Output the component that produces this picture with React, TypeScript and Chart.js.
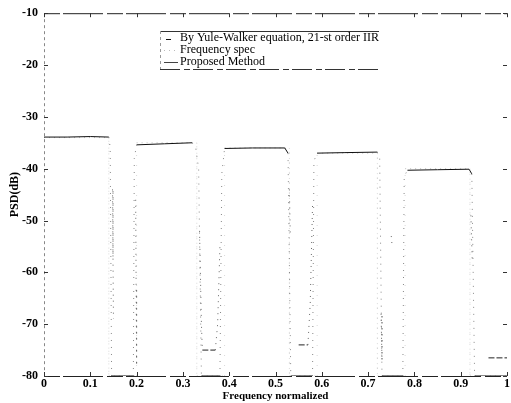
import React, { useEffect, useRef } from "react";
import { Chart, registerables } from "chart.js";

Chart.register(...registerables);

// ---- data ----
const xTicks = [0, 0.1, 0.2, 0.3, 0.4, 0.5, 0.6, 0.7, 0.8, 0.9, 1];
const yTicks = [-10, -20, -30, -40, -50, -60, -70, -80];

const proposedX = [0, 0.05, 0.1, 0.14, 0.143, 0.146, 0.193, 0.195, 0.2, 0.26, 0.32, 0.328, 0.334, 0.34, 0.38, 0.384, 0.39, 0.45, 0.52, 0.527, 0.533, 0.58, 0.583, 0.59, 0.65, 0.72, 0.725, 0.73, 0.775, 0.778, 0.785, 0.85, 0.918, 0.924, 0.93, 1];
const proposedY = [-33.9, -33.9, -33.8, -33.9, -36, -80, -80, -38, -35.4, -35.2, -35.0, -36.2, -40, -80, -80, -41, -36.1, -36.0, -36.0, -37, -80, -80, -38.5, -37.0, -36.9, -36.8, -38, -80, -80, -41.5, -40.3, -40.2, -40.1, -41, -80, -80];

const ywX = [0.148, 0.149, 0.15, null, 0.198, 0.199, 0.2, null, 0.336, 0.34, 0.342, 0.37, 0.375, 0.38, null, 0.53, 0.532, null, 0.55, 0.57, 0.575, 0.58, null, 0.728, 0.73, null, 0.75, 0.752, null, 0.922, 0.925, null, 0.96, 1];
const ywY = [-44, -57, -69, null, -46, -63, -78, null, -52, -70, -75, -75, -70, -55, null, -44, -53, null, -74, -74, -66, -47, null, -68, -77, null, -53, -55, null, -49, -58, null, -76.5, -76.5];

const specX = [0, 0.14, 0.14, 0.2, 0.2, 0.33, 0.33, 0.39, 0.39, 0.53, 0.53, 0.59, 0.59, 0.72, 0.72, 0.78, 0.78, 0.92, 0.92, 1];
const specY = [-34, -34, -80, -80, -35, -35, -80, -80, -36, -36, -80, -80, -37, -37, -80, -80, -40, -40, -80, -80];

const seriesLabels = [
  "By Yule-Walker equation, 21-st order IIR",
  "Frequency spec",
  "Proposed Method",
];

const toPts = (xs: (number | null)[], ys: (number | null)[]) =>
  xs.map((x, i) => ({ x: x as any, y: ys[i] as any }));

const isVertical = (ctx: any) =>
  Math.abs(ctx.p1.x - ctx.p0.x) < 4 && Math.abs(ctx.p1.y - ctx.p0.y) > 6;

const framePlugin = {
  id: "frame",
  afterDatasetsDraw(chart: any) {
    const { ctx, chartArea: a, scales } = chart;
    ctx.save();
    ctx.lineWidth = 1;
    // box
    ctx.strokeStyle = "#222";
    ctx.setLineDash([16, 3, 40, 4]);
    ctx.beginPath();
    ctx.moveTo(a.left, a.top + 0.5);
    ctx.lineTo(a.right, a.top + 0.5);
    ctx.moveTo(a.left, a.bottom + 0.5);
    ctx.lineTo(a.right, a.bottom + 0.5);
    ctx.stroke();
    ctx.strokeStyle = "#888";
    ctx.setLineDash([3, 3]);
    ctx.beginPath();
    ctx.moveTo(a.left + 0.5, a.top);
    ctx.lineTo(a.left + 0.5, a.bottom);
    ctx.stroke();
    ctx.setLineDash([]);
    // inward ticks
    ctx.strokeStyle = "#333";
    ctx.beginPath();
    yTicks.forEach((v) => {
      const y = Math.round(scales.y.getPixelForValue(v)) + 0.5;
      ctx.moveTo(a.left, y);
      ctx.lineTo(a.left + 4, y);
      ctx.moveTo(a.right, y);
      ctx.lineTo(a.right - 4, y);
    });
    xTicks.forEach((v) => {
      const x = Math.round(scales.x.getPixelForValue(v)) + 0.5;
      ctx.moveTo(x, a.bottom);
      ctx.lineTo(x, a.bottom - 4);
      ctx.moveTo(x, a.top);
      ctx.lineTo(x, a.top + 4);
    });
    ctx.stroke();

    // legend box
    const lx = 160, ly = 31, lw = 219, lh = 38;
    ctx.fillStyle = "#fff";
    ctx.fillRect(lx, ly, lw, lh);
    ctx.strokeStyle = "#333";
    ctx.setLineDash([]);
    ctx.beginPath();
    ctx.moveTo(lx, ly + 0.5);
    ctx.lineTo(lx + lw, ly + 0.5);
    ctx.stroke();
    ctx.setLineDash([20, 4, 6, 3]);
    ctx.beginPath();
    ctx.moveTo(lx, ly + lh + 0.5);
    ctx.lineTo(lx + lw, ly + lh + 0.5);
    ctx.stroke();
    ctx.strokeStyle = "#999";
    ctx.setLineDash([3, 3]);
    ctx.beginPath();
    ctx.moveTo(lx + 0.5, ly);
    ctx.lineTo(lx + 0.5, ly + lh);
    ctx.stroke();
    ctx.setLineDash([]);
    // markers
    ctx.strokeStyle = "#111";
    ctx.beginPath();
    ctx.moveTo(166, 39.5);
    ctx.lineTo(171, 39.5);
    ctx.stroke();
    ctx.strokeStyle = "#bbb";
    ctx.setLineDash([1, 4]);
    ctx.beginPath();
    ctx.moveTo(164, 50.5);
    ctx.lineTo(178, 50.5);
    ctx.stroke();
    ctx.setLineDash([]);
    ctx.strokeStyle = "#444";
    ctx.beginPath();
    ctx.moveTo(164, 62.5);
    ctx.lineTo(178, 62.5);
    ctx.stroke();
    ctx.fillStyle = "#000";
    ctx.font = '12px "Liberation Serif"';
    ctx.textBaseline = "middle";
    const labels = chart.data.datasets.map((d: any) => d.label);
    ctx.fillText(labels[0], 180, 38);
    ctx.fillText(labels[1], 180, 50);
    ctx.fillText(labels[2], 180, 62);
    ctx.restore();
  },
};

export default function App() {
  const ref = useRef<HTMLCanvasElement>(null);
  useEffect(() => {
    if (!ref.current) return;
    const chart = new Chart(ref.current, {
      type: "line",
      data: {
        datasets: [
          {
            label: seriesLabels[0],
            data: toPts(ywX, ywY),
            borderColor: "#444",
            borderWidth: 1,
            pointRadius: 0,
            spanGaps: false,
            segment: {
              borderDash: (ctx: any) => (isVertical(ctx) ? [1, 5] : [6, 2]),
              borderColor: (ctx: any) => (isVertical(ctx) ? "#666" : "#222"),
            },
          },
          {
            label: seriesLabels[1],
            data: toPts(specX, specY),
            borderWidth: 1,
            pointRadius: 0,
            segment: {
              borderDash: (ctx: any) => (isVertical(ctx) ? [1, 9] : [1, 4]),
              borderColor: (ctx: any) => (isVertical(ctx) ? "rgba(0,0,0,0.15)" : "rgba(0,0,0,0.25)"),
            },
          },
          {
            label: seriesLabels[2],
            data: toPts(proposedX, proposedY),
            borderColor: "#111",
            borderWidth: 1,
            pointRadius: 0,
            segment: {
              borderDash: (ctx: any) => (isVertical(ctx) ? [1, 6] : undefined),
              borderColor: (ctx: any) => (isVertical(ctx) ? "#888" : "#111"),
            },
          },
        ],
      },
      options: {
        animation: false,
        responsive: false,
        parsing: false as any,
        layout: { padding: { top: 12, right: 1, left: 8, bottom: 0 } },
        plugins: { legend: { display: false }, tooltip: { enabled: false } },
        scales: {
          x: {
            type: "linear",
            min: 0,
            max: 1,
            afterFit: (s: any) => {
              s.height = 27;
            },
            afterBuildTicks: (s: any) => {
              s.ticks = xTicks.map((v) => ({ value: v }));
            },
            ticks: {
              color: "#000",
              padding: 1,
              maxRotation: 0,
              font: { family: "Liberation Serif", size: 12, weight: "bold" },
              callback: (v: any) => String(Math.round(Number(v) * 10) / 10),
            },
            grid: { display: false, drawTicks: false },
            border: { display: false },
            title: {
              display: true,
              text: "Frequency normalized",
              color: "#000",
              padding: { top: -2, bottom: 0 },
              font: { family: "Liberation Serif", size: 11, weight: "bold" },
            },
          },
          y: {
            type: "linear",
            min: -80,
            max: -10,
            afterFit: (s: any) => {
              s.width = 36;
            },
            afterBuildTicks: (s: any) => {
              s.ticks = yTicks.map((v) => ({ value: v }));
            },
            ticks: {
              color: "#000",
              padding: 6,
              font: { family: "Liberation Serif", size: 12, weight: "bold" },
            },
            grid: { display: false, drawTicks: false },
            border: { display: false },
            title: {
              display: true,
              text: "PSD(dB)",
              color: "#000",
              padding: { top: 0, bottom: 0 },
              font: { family: "Liberation Serif", size: 12, weight: "bold" },
            },
          },
        },
      },
      plugins: [framePlugin],
    });
    return () => chart.destroy();
  }, []);
  return (
    <div style={{ position: "fixed", left: 0, top: 0, width: 511, height: 403, background: "#fff" }}>
      <canvas ref={ref} width={511} height={403} style={{ width: 511, height: 403 }} />
    </div>
  );
}
